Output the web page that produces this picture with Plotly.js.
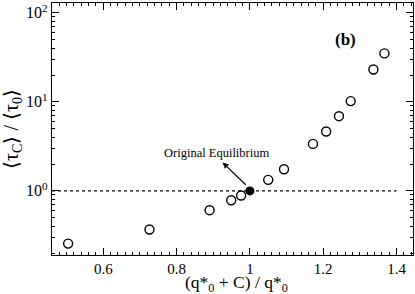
<!DOCTYPE html>
<html>
<head>
<meta charset="utf-8">
<script src="https://cdn.plot.ly/plotly-3.0.1.min.js"></script>
<style>html,body{margin:0;padding:0;background:#fff;}#chart{width:415px;height:294px;}</style>
</head>
<body>
<div id="chart"></div>
<script>
// Data
var xOpen = [0.504, 0.726, 0.890, 0.949, 0.976, 1.050, 1.093, 1.172, 1.208, 1.243, 1.275, 1.337, 1.367];
var yOpen = [0.256, 0.368, 0.607, 0.786, 0.887, 1.33, 1.75, 3.37, 4.65, 6.9, 10.2, 23.1, 35.0];
var xOrig = [1.0];
var yOrig = [1.0];
var refX = [0.46, 1.4];
var refY = [1, 1];
var yTickVals = [1, 10, 100];
var yTickText = ['10<sup>0</sup>', '10<sup>1</sup>', '10<sup>2</sup>'];
var xTickVals = [0.6, 0.8, 1.0, 1.2, 1.4];
var xTickText = ['0.6', '0.8', '1', '1.2', '1.4'];
var xTitle = '(q*<sub>0</sub> + C) / q*<sub>0</sub>';
var yTitle = '⟨τ<sub>C</sub>⟩ / ⟨τ<sub>0</sub>⟩';

var serif = 'Liberation Serif, Times New Roman, serif';

var traces = [
  {x: refX, y: refY, mode: 'lines', line: {color: '#000', width: 1.2, dash: 'dot'}, hoverinfo: 'skip', showlegend: false},
  {x: xOpen, y: yOpen, mode: 'markers', marker: {symbol: 'circle-open', size: 9, color: '#000', line: {width: 1.4, color: '#000'}}, showlegend: false},
  {x: xOrig, y: yOrig, mode: 'markers', marker: {symbol: 'circle', size: 9, color: '#000'}, showlegend: false}
];

var layout = {
  width: 415, height: 294,
  margin: {l: 52, r: 2, t: 3, b: 39},
  paper_bgcolor: '#fff', plot_bgcolor: '#fff',
  font: {family: serif, color: '#000', size: 16},
  showlegend: false,
  xaxis: {
    range: [0.46, 1.445], tickvals: xTickVals, ticktext: xTickText,
    ticks: 'inside', ticklen: 7, tickwidth: 1, tickcolor: '#000',
    showline: true, linecolor: '#000', linewidth: 1.2, mirror: 'allticks',
    showgrid: false, zeroline: false, automargin: false,
    minor: {dtick: 0.02, tick0: 0, ticks: 'inside', ticklen: 3, tickcolor: '#000', showgrid: false},
    tickfont: {family: serif, size: 15}
  },
  yaxis: {
    type: 'log', range: [-0.72, 2.11], tickvals: yTickVals, ticktext: yTickText,
    ticks: 'inside', ticklen: 7, tickwidth: 1, tickcolor: '#000',
    showline: true, linecolor: '#000', linewidth: 1.2, mirror: 'allticks',
    showgrid: false, zeroline: false, automargin: false,
    minor: {dtick: 'D1', ticks: 'inside', ticklen: 3, tickcolor: '#000', showgrid: false},
    tickfont: {family: serif, size: 16},
    title: {text: yTitle, font: {family: serif, size: 20}, standoff: 2}
  },
  annotations: [
    {x: 0.512, y: -0.166, xref: 'paper', yref: 'paper', xanchor: 'center', yanchor: 'bottom', text: xTitle, showarrow: false, font: {family: serif, size: 17.5, color: '#000'}},
    {x: 1.262, y: 1.704, xref: 'x', yref: 'y', text: '<b>(b)</b>', showarrow: false, font: {family: serif, size: 17, color: '#000'}},
    {x: 0.909, y: 0.427, xref: 'x', yref: 'y', text: 'Original Equilibrium', showarrow: false, font: {family: serif, size: 12.5, color: '#000'}},
    {x: 0.9255, y: 0.319, xref: 'x', yref: 'y', ax: 0.9926, ay: 0.053, axref: 'x', ayref: 'y', text: '', showarrow: true, arrowhead: 2, arrowsize: 1, arrowwidth: 1.2, arrowcolor: '#000'}
  ]
};

Plotly.newPlot('chart', traces, layout, {displayModeBar: false, staticPlot: true});
</script>
</body>
</html>
